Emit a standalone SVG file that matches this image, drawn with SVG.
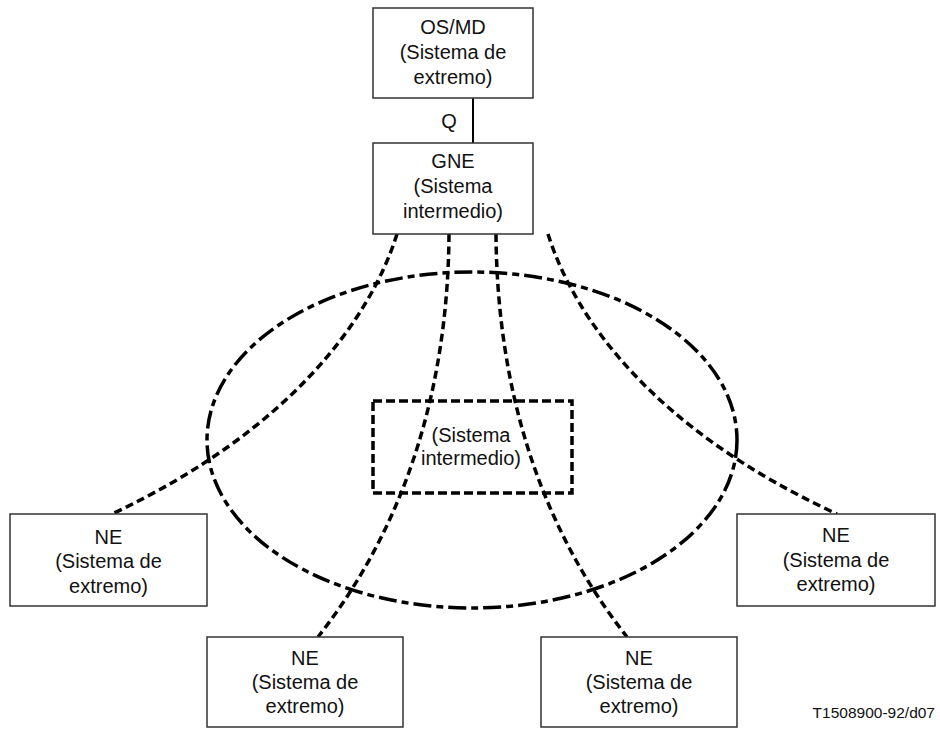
<svg xmlns="http://www.w3.org/2000/svg" width="940" height="729" viewBox="0 0 940 729">
  <style>
    .box { fill: #fff; stroke: #333; stroke-width: 1.5; }
    .lbl { font-family: "Liberation Sans", Arial, sans-serif; font-size: 20px; fill: #111; text-anchor: middle; }
    .link { fill: none; stroke: #000; stroke-width: 3.5; stroke-dasharray: 8 4.5; }
    .solid { fill: none; stroke: #000; stroke-width: 2; }
    .domain { fill: none; stroke: #000; stroke-width: 3.5; stroke-dasharray: 18 5 7 5; }
    .inner { fill: none; stroke: #000; stroke-width: 3.5; stroke-dasharray: 9 4; }
  </style>
  <rect width="940" height="729" fill="#fff"/>

  <!-- management domain boundary -->
  <ellipse id="domain" class="domain" cx="472" cy="440" rx="265" ry="168"/>

  <!-- connectors -->
  <g id="connectors">
    <line class="solid" x1="473" y1="98" x2="473" y2="143"/>
    <path class="link" d="M397,234 C370,320 290,430 112,514"/>
    <path class="link" d="M449,234 C448,380 410,520 318,637"/>
    <path class="link" d="M496,234 C497,380 535,520 627,637"/>
    <path class="link" d="M548,234 C575,320 655,430 837,514"/>
  </g>
  <text class="lbl" x="449" y="128">Q</text>

  <g id="osmd">
    <rect class="box" x="373" y="8" width="160" height="90"/>
    <text class="lbl" x="453" y="34">OS/MD</text>
    <text class="lbl" x="453" y="59">(Sistema de</text>
    <text class="lbl" x="453" y="84">extremo)</text>
  </g>

  <g id="gne">
    <rect class="box" x="373" y="143" width="160" height="91"/>
    <text class="lbl" x="453" y="168">GNE</text>
    <text class="lbl" x="453" y="193">(Sistema</text>
    <text class="lbl" x="453" y="218">intermedio)</text>
  </g>

  <g id="is-inner">
    <rect class="inner" x="373" y="401" width="199" height="92"/>
    <text class="lbl" x="471" y="442">(Sistema</text>
    <text class="lbl" x="471" y="465">intermedio)</text>
  </g>

  <g id="ne-left">
    <rect class="box" x="10" y="514" width="197" height="92"/>
    <text class="lbl" x="108.5" y="544">NE</text>
    <text class="lbl" x="108.5" y="568">(Sistema de</text>
    <text class="lbl" x="108.5" y="593">extremo)</text>
  </g>

  <g id="ne-right">
    <rect class="box" x="737" y="514" width="198" height="92"/>
    <text class="lbl" x="836" y="542">NE</text>
    <text class="lbl" x="836" y="567">(Sistema de</text>
    <text class="lbl" x="836" y="591">extremo)</text>
  </g>

  <g id="ne-bottom-left">
    <rect class="box" x="207" y="637" width="196" height="90"/>
    <text class="lbl" x="305" y="665">NE</text>
    <text class="lbl" x="305" y="689">(Sistema de</text>
    <text class="lbl" x="305" y="713">extremo)</text>
  </g>

  <g id="ne-bottom-right">
    <rect class="box" x="541" y="637" width="196" height="90"/>
    <text class="lbl" x="639" y="665">NE</text>
    <text class="lbl" x="639" y="689">(Sistema de</text>
    <text class="lbl" x="639" y="713">extremo)</text>
  </g>

  <text x="935" y="718" font-family="Liberation Sans, Arial, sans-serif" font-size="15.5" fill="#111" text-anchor="end">T1508900-92/d07</text>
</svg>
